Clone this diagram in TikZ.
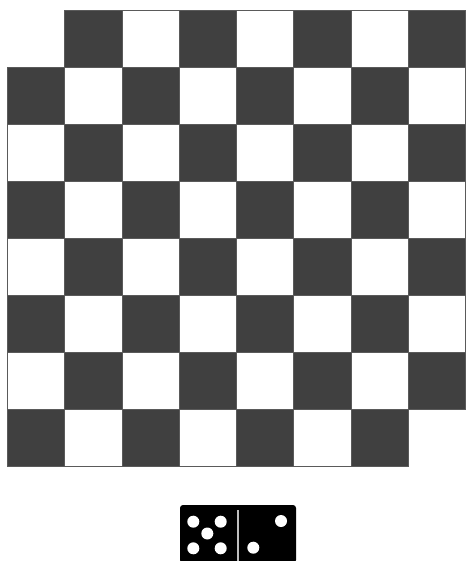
\documentclass[tikz,border=0pt]{standalone}
\usepackage{tikz}
\definecolor{darksq}{HTML}{404040}
\definecolor{gridline}{HTML}{5A5A5A}
\tikzset{
  darkcell/.style={fill=darksq, draw=gridline, line width=0.6pt},
  lightcell/.style={fill=white, draw=gridline, line width=0.6pt},
  pip/.style={fill=white, draw=none},
}
\begin{document}
\begin{tikzpicture}[x=1pt,y=-1pt]
\useasboundingbox (0,0) rectangle (466,561);
\fill[white] (0,0) rectangle (466,561);
\def\xo{7.5}\def\yo{10}\def\sx{57.25}\def\sy{57.0}
\foreach \r in {1,...,8}{
  \foreach \c in {1,...,8}{
    \pgfmathtruncatemacro{\skipit}{((\r==1) && (\c==1)) || ((\r==8) && (\c==8)) ? 1 : 0}
    \ifnum\skipit=0
      \pgfmathtruncatemacro{\parity}{mod(\r+\c,2)}
      \pgfmathsetmacro{\xa}{\xo+(\c-1)*\sx}
      \pgfmathsetmacro{\ya}{\yo+(\r-1)*\sy}
      \ifnum\parity=1
        \path[darkcell] (\xa,\ya) rectangle ++(\sx,\sy);
      \else
        \path[lightcell] (\xa,\ya) rectangle ++(\sx,\sy);
      \fi
    \fi
  }
}
% domino
\fill[black, rounded corners=3pt] (180,505) rectangle (296,563);
\draw[white!75!black, line width=1.6pt] (237.7,510) -- (237.7,561);
\foreach \px/\py in {193.3/521.7, 220.7/521.7, 207.3/533.5, 193.3/548.3, 220.7/548.3, 281/521, 253.3/547.7}{
  \fill[pip] (\px,\py) circle (6);
}
\end{tikzpicture}
\end{document}
